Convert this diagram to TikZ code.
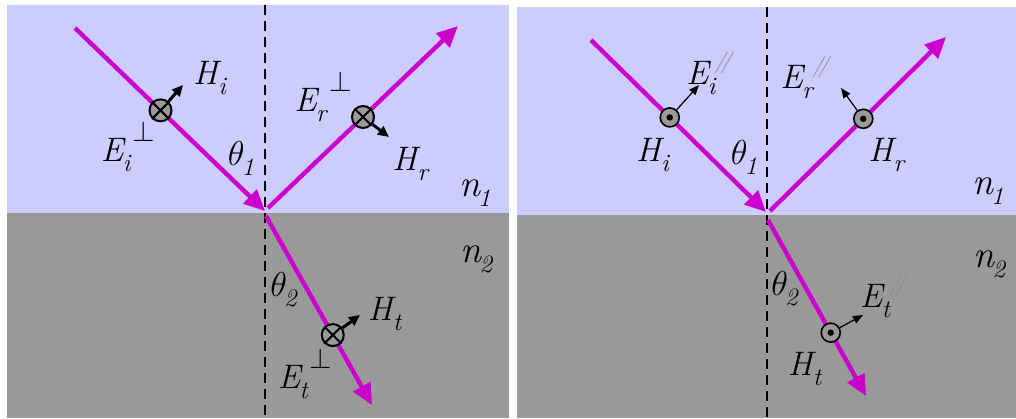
\documentclass[tikz,border=0pt]{standalone}
\usetikzlibrary{arrows.meta}

\definecolor{vacuum}{RGB}{204,204,255}
\definecolor{glass}{RGB}{153,153,153}
\definecolor{beam}{RGB}{204,0,204}
\newcommand{\fld}[3]{\textit{#1}\kern-1.5pt\raisebox{-5pt}{\fontsize{12.5}{12}\selectfont\textit{#2}}#3}
\newcommand{\perpsym}{\kern0.5pt\raisebox{10pt}{\fontsize{14}{14}\selectfont$\perp$}}
\newcommand{\parsym}{\kern-1pt\raisebox{8pt}{\fontsize{11}{11}\selectfont\textcolor{black!45}{\textit{/\kern-2.6pt/}}}}

\begin{document}
\begin{tikzpicture}[
  x=0.5pt, y=-0.5pt,
  font=\fontsize{17}{19}\selectfont,
  lbl/.style={inner sep=0pt, anchor=center},
  idx/.style={inner sep=0pt, anchor=center, font=\fontsize{19}{21}\selectfont},
  normal/.style={dash pattern=on 5pt off 3pt, line width=0.75pt},
  ray/.style={draw=beam, line width=2.2pt, -{Triangle[length=10.5pt, width=9.5pt]}},
  crossc/.style={circle, draw, line width=1pt, fill=glass, minimum size=11pt, inner sep=0pt},
  dotc/.style={circle, draw, line width=0.8pt, fill=glass, minimum size=9.5pt, inner sep=0pt},
  hfield/.style={-{Triangle[length=5.5pt, width=5pt]}, line width=1.5pt},
  efield/.style={-{Triangle[length=5pt, width=4pt]}, line width=0.6pt}
]
\useasboundingbox (0,0) rectangle (1016,418);

\fill[vacuum] (7,5) rectangle (509,213);
\fill[glass] (7,213) rectangle (509,418);
\fill[vacuum] (517,7) rectangle (1016,215);
\fill[glass] (517,215) rectangle (1016,418);

\coordinate (nL_top) at (265,5);
\coordinate (nL_bot) at (265,418);
\coordinate (nR_top) at (767,7);
\coordinate (nR_bot) at (767,418);
\draw[normal] (nL_top) -- (nL_bot);
\draw[normal] (nR_top) -- (nR_bot);

\coordinate (incL_a) at (75,28);
\coordinate (incL_b) at (265,211);
\coordinate (refL_a) at (268,208);
\coordinate (refL_b) at (458,26);
\coordinate (traL_a) at (266,216);
\coordinate (traL_b) at (372,405);
\coordinate (incR_a) at (591,40);
\coordinate (incR_b) at (766,212);
\coordinate (refR_a) at (770,211);
\coordinate (refR_b) at (946,37);
\coordinate (traR_a) at (768,220);
\coordinate (traR_b) at (866,396);

\draw[ray] (incL_a) -- (incL_b);
\draw[ray] (refL_a) -- (refL_b);
\draw[ray] (traL_a) -- (traL_b);
\draw[ray] (incR_a) -- (incR_b);
\draw[ray] (refR_a) -- (refR_b);
\draw[ray] (traR_a) -- (traR_b);

\path (incL_a) -- (incL_b) node[pos=0.45, crossc] (Ei) {};
\path (refL_a) -- (refL_b) node[pos=0.5, crossc] (Er) {};
\path (traL_a) -- (traL_b) node[pos=0.63, crossc] (Et) {};
\path (incR_a) -- (incR_b) node[pos=0.45, dotc] (Hi) {};
\path (refR_a) -- (refR_b) node[pos=0.53, dotc] (Hr) {};
\path (traR_a) -- (traR_b) node[pos=0.64, dotc] (Ht) {};

\foreach \c in {Ei,Er,Et}
  \draw[line width=1pt] (\c.north east) -- (\c.south west) (\c.north west) -- (\c.south east);
\foreach \c in {Hi,Hr,Ht}
  \fill (\c) circle (1.6pt);

\coordinate (Hi_tip) at (183,85);
\coordinate (Hr_tip) at (389,137);
\coordinate (Ht_tip) at (360,315);
\coordinate (Ei_tip) at (699,85);
\coordinate (Er_tip) at (841,88);
\coordinate (Et_tip) at (863,315);
\draw[hfield] (Ei) -- (Hi_tip);
\draw[hfield] (Er) -- (Hr_tip);
\draw[hfield] (Et) -- (Ht_tip);
\draw[efield] (Hi) -- (Ei_tip);
\draw[efield] (Hr) -- (Er_tip);
\draw[efield] (Ht) -- (Et_tip);

\node[lbl] (lab_Hi) at (210,78) {\fld{H}{i}{}};
\node[lbl] (lab_Ei) at (128,147) {\fld{E}{i}{\perpsym}};
\node[lbl] (lab_th1) at (241,158) {\fld{$\theta$}{1}{}};
\node[lbl] (lab_Er) at (323,97) {\fld{E}{r}{\perpsym}};
\node[lbl] (lab_Hr) at (411,164) {\fld{H}{r}{}};
\node[idx] (lab_n1) at (475,193) {\fld{n}{1}{}};
\node[idx] (lab_n2) at (477,259) {\fld{n}{2}{}};
\node[lbl] (lab_th2) at (284,290) {\fld{$\theta$}{2}{}};
\node[lbl] (lab_Ht) at (385,314) {\fld{H}{t}{}};
\node[lbl] (lab_Et) at (305,374) {\fld{E}{t}{\perpsym}};

\node[lbl] (lab_Ei2) at (710,73) {\fld{E}{i}{\parsym}};
\node[lbl] (lab_Hi2) at (653,155) {\fld{H}{i}{}};
\node[lbl] (lab_th1b) at (744,157) {\fld{$\theta$}{1}{}};
\node[lbl] (lab_Er2) at (806,77) {\fld{E}{r}{\parsym}};
\node[lbl] (lab_Hr2) at (887,155) {\fld{H}{r}{}};
\node[idx] (lab_n1b) at (988,191) {\fld{n}{1}{}};
\node[idx] (lab_n2b) at (990,264) {\fld{n}{2}{}};
\node[lbl] (lab_th2b) at (785,289) {\fld{$\theta$}{2}{}};
\node[lbl] (lab_Et2) at (884,296) {\fld{E}{t}{\parsym}};
\node[lbl] (lab_Ht2) at (805,369) {\fld{H}{t}{}};
\end{tikzpicture}
\end{document}
